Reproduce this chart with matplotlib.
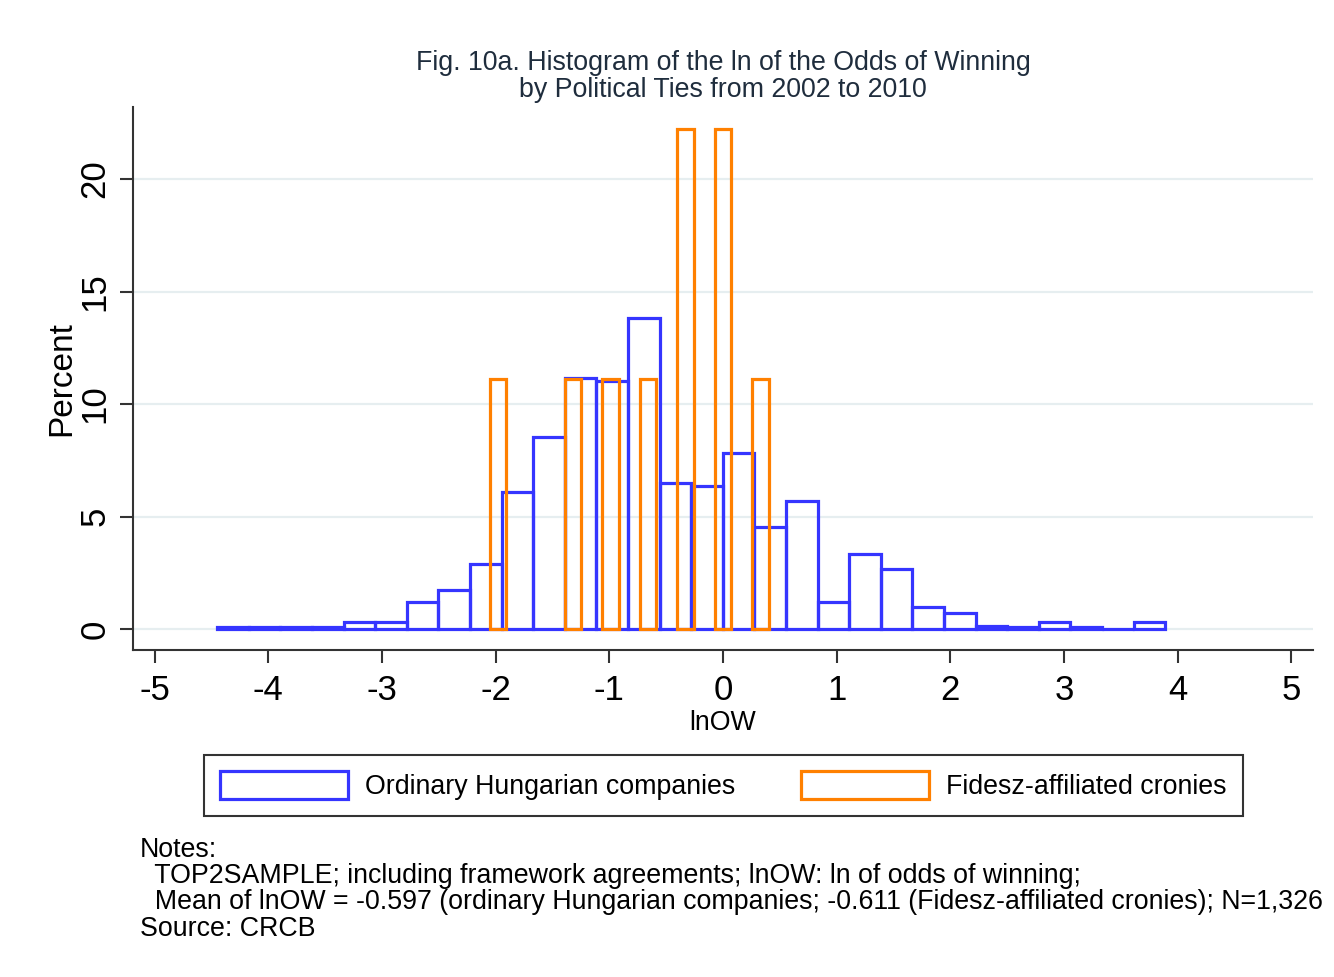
import numpy as np
import matplotlib
matplotlib.use('Agg')
import matplotlib.pyplot as plt

plt.rcParams['font.family'] = ['Liberation Sans', 'DejaVu Sans']

# ordinary companies: 30 bins, percent of firms per bin
blue_start = -4.45
blue_width = 0.278
blue_pct = [0.075, 0.075, 0.075, 0.075, 0.30, 0.30, 1.20, 1.73, 2.88, 6.07,
            8.53, 11.16, 11.04, 13.82, 6.47, 6.37, 7.84, 4.55, 5.70, 1.21,
            3.35, 2.67, 0.99, 0.70, 0.15, 0.075, 0.30, 0.075, 0.0, 0.30]

# Fidesz-affiliated cronies
orange_centers = [-1.98, -1.32, -0.99, -0.66, -0.33, 0.0, 0.33]
orange_pct = [11.11, 11.11, 11.11, 11.11, 22.22, 22.22, 11.11]
orange_width = 0.145

x_ticks = [-5, -4, -3, -2, -1, 0, 1, 2, 3, 4, 5]
y_ticks = [0, 5, 10, 15, 20]

title = 'Fig. 10a. Histogram of the ln of the Odds of Winning\nby Political Ties from 2002 to 2010'
note_lines = ['Notes:',
              '  TOP2SAMPLE; including framework agreements; lnOW: ln of odds of winning;',
              '  Mean of lnOW = -0.597 (ordinary Hungarian companies; -0.611 (Fidesz-affiliated cronies); N=1,326',
              'Source: CRCB']

blue = '#3535ff'
orange = '#ff8000'
dark = '#333333'

fig = plt.figure(figsize=(13.34, 9.77), dpi=100)
ax = fig.add_axes([0.0997, 0.3347, 0.8846, 0.5558])

edges = blue_start + blue_width * np.arange(len(blue_pct))
b1 = ax.bar(edges, blue_pct, width=blue_width, align='edge',
            facecolor='none', edgecolor=blue, linewidth=2.3, zorder=3)
b2 = ax.bar(orange_centers, orange_pct, width=orange_width, align='center',
            facecolor='none', edgecolor=orange, linewidth=2.3, zorder=4)

ax.set_xlim(-5.19, 5.19)
ax.set_ylim(-0.93, 23.2)
ax.set_xticks(x_ticks)
ax.set_xticklabels([str(t) for t in x_ticks])
ax.set_yticks(y_ticks)
ax.set_yticklabels([str(t) for t in y_ticks], rotation=90, va='center')
ax.grid(axis='y', color='#e6eef0', linewidth=1.6, zorder=0)
ax.set_axisbelow(True)

for side in ['top', 'right']:
    ax.spines[side].set_visible(False)
for side in ['left', 'bottom']:
    ax.spines[side].set_color(dark)
    ax.spines[side].set_linewidth(1.5)
ax.tick_params(axis='both', length=9.5, width=1.5, color=dark, labelsize=25)
ax.tick_params(axis='x', pad=8)
ax.tick_params(axis='y', pad=6)

ax.set_ylabel('Percent', fontsize=24)
ax.yaxis.set_label_coords(-0.047, 0.5)
ax.set_xlabel('lnOW', fontsize=19.3)
ax.xaxis.set_label_coords(0.5, -0.11)

ax.set_title(title, fontsize=19.3, color='#1f2d3d', pad=7, linespacing=1.08)

leg = fig.legend([b1, b2], ['Ordinary Hungarian companies', 'Fidesz-affiliated cronies'],
                 loc='center', bbox_to_anchor=(0.5424, 0.196), ncol=2, fontsize=19.3,
                 handlelength=4.75, handleheight=1.2, handletextpad=0.66,
                 columnspacing=2.45, borderpad=0.6, borderaxespad=0, fancybox=False,
                 framealpha=1, edgecolor=dark)
leg.get_frame().set_linewidth(1.5)

note_y = [857, 883, 909, 936]
for line, yb in zip(note_lines, note_y):
    fig.text(140 / 1334, 1 - yb / 977, line, fontsize=19.3, va='baseline', ha='left')

fig.savefig('out.png', dpi=100, facecolor='white')
